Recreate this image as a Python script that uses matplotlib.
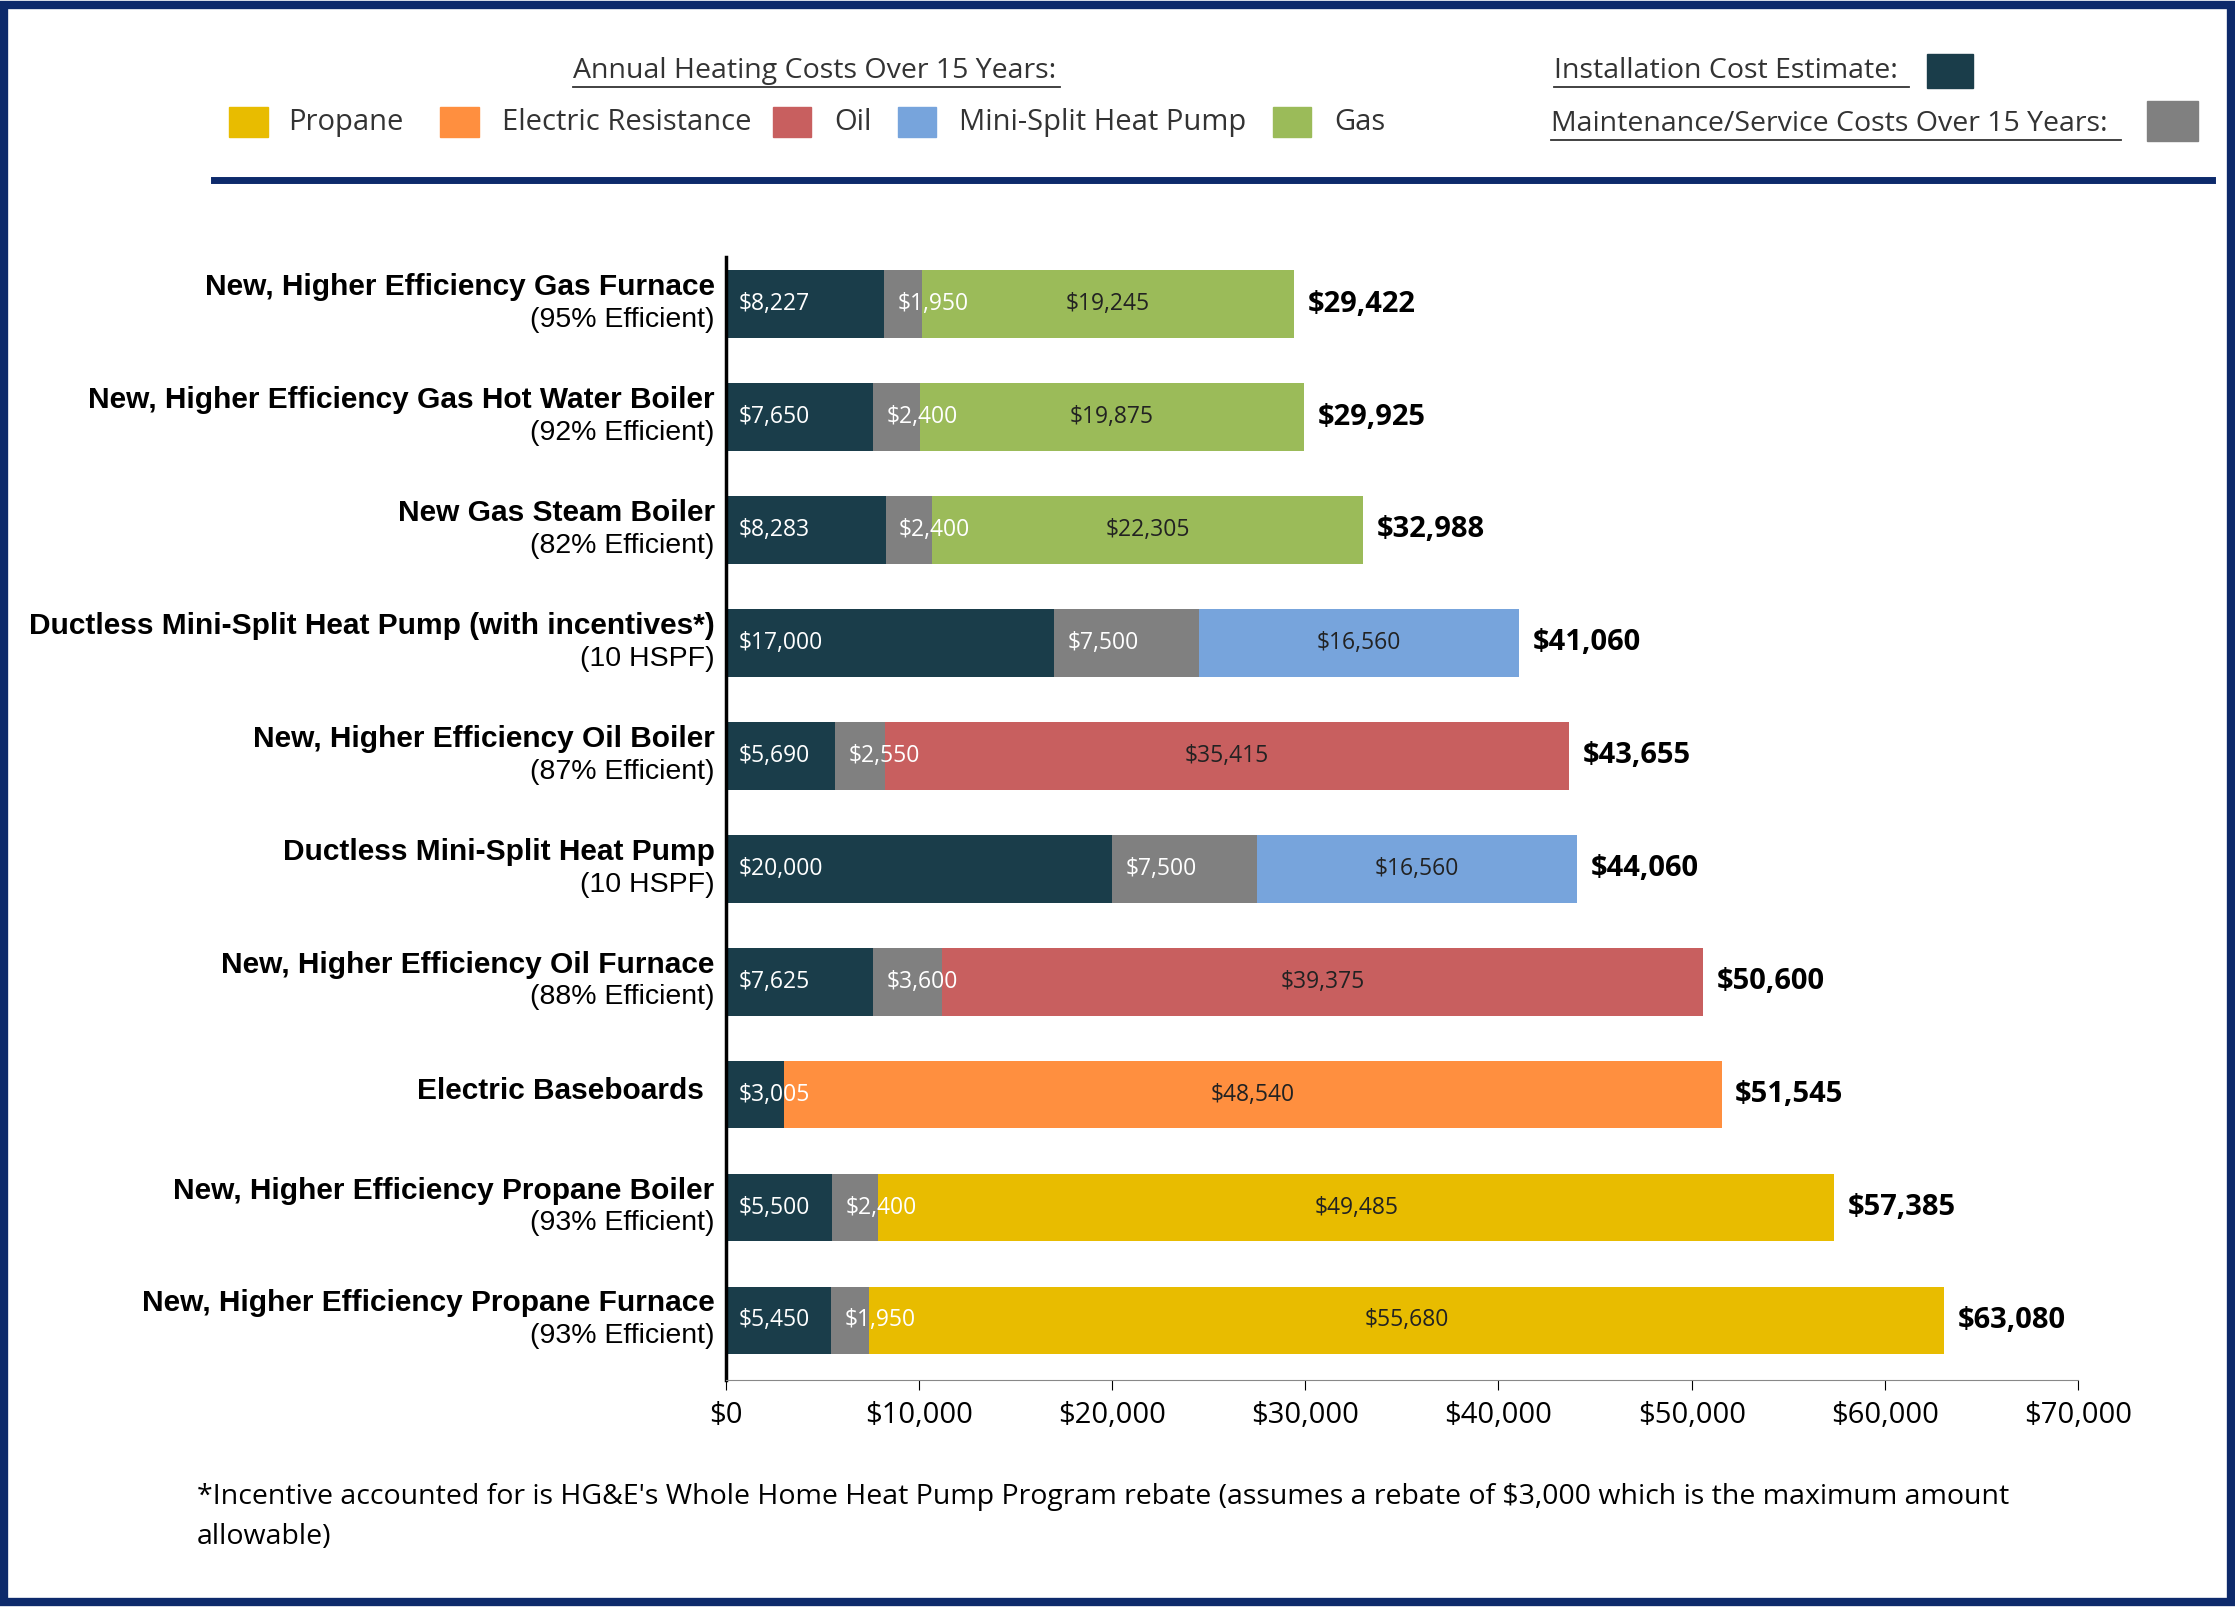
import matplotlib.pyplot as plt
from matplotlib.patches import Rectangle
from matplotlib.lines import Line2D
from matplotlib.ticker import FuncFormatter

names = ['New, Higher Efficiency Gas Furnace', 'New, Higher Efficiency Gas Hot Water Boiler',
         'New Gas Steam Boiler', 'Ductless Mini-Split Heat Pump (with incentives*)',
         'New, Higher Efficiency Oil Boiler', 'Ductless Mini-Split Heat Pump',
         'New, Higher Efficiency Oil Furnace', 'Electric Baseboards',
         'New, Higher Efficiency Propane Boiler', 'New, Higher Efficiency Propane Furnace']
subs = ['(95% Efficient)', '(92% Efficient)', '(82% Efficient)', '(10 HSPF)', '(87% Efficient)',
        '(10 HSPF)', '(88% Efficient)', '', '(93% Efficient)', '(93% Efficient)']
install = [8227, 7650, 8283, 17000, 5690, 20000, 7625, 3005, 5500, 5450]
maint = [1950, 2400, 2400, 7500, 2550, 7500, 3600, 0, 2400, 1950]
fuel = [19245, 19875, 22305, 16560, 35415, 16560, 39375, 48540, 49485, 55680]
fuel_type = ['Gas', 'Gas', 'Gas', 'Mini-Split Heat Pump', 'Oil', 'Mini-Split Heat Pump',
             'Oil', 'Electric Resistance', 'Propane', 'Propane']

colors = {'Propane': '#e8bc00', 'Electric Resistance': '#ff8f3f', 'Oil': '#c85f5f',
          'Mini-Split Heat Pump': '#77a4dc', 'Gas': '#9bbb59'}
c_inst = '#1a3d4a'
c_maint = '#808080'

W, H = 1568.0, 1127.0  # reference layout coordinates
fig = plt.figure(figsize=(22.35, 16.07), dpi=100)
ax = fig.add_axes([509 / W, 1 - 968 / H, (1458 - 509) / W, (968 - 180) / H])

fam = ['Liberation Sans', 'DejaVu Sans']
cal = ['Open Sans', 'DejaVu Sans']
y = list(range(len(names)))[::-1]
for i in range(len(names)):
    yy = y[i]
    ax.barh(yy, install[i], height=0.6, color=c_inst)
    ax.barh(yy, maint[i], left=install[i], height=0.6, color=c_maint)
    ax.barh(yy, fuel[i], left=install[i] + maint[i], height=0.6, color=colors[fuel_type[i]])
    ax.text(700, yy, '${:,}'.format(install[i]), color='white', va='center', fontsize=16.5, family=cal)
    if maint[i]:
        ax.text(install[i] + 700, yy, '${:,}'.format(maint[i]), color='white', va='center', fontsize=16.5, family=cal)
    ax.text(install[i] + maint[i] + fuel[i] / 2, yy, '${:,}'.format(fuel[i]), color='#222222',
            va='center', ha='center', fontsize=16.5, family=cal)
    tot = install[i] + maint[i] + fuel[i]
    ax.text(tot + 700, yy, '${:,}'.format(tot), va='center', fontsize=21, fontweight='bold', family=cal)
    if subs[i]:
        ax.text(-0.008, yy + 0.15, names[i], transform=ax.get_yaxis_transform(), ha='right', va='center',
                fontsize=21.5, fontweight='bold', family=fam)
        ax.text(-0.008, yy - 0.14, subs[i], transform=ax.get_yaxis_transform(), ha='right', va='center',
                fontsize=20.5, family=fam)
    else:
        ax.text(-0.016, yy + 0.03, names[i], transform=ax.get_yaxis_transform(), ha='right', va='center',
                fontsize=21.5, fontweight='bold', family=fam)

ax.set_xlim(0, 70000)
ax.set_ylim(-0.53, len(names) - 1 + 0.42)
ax.set_xticks(range(0, 70001, 10000))
ax.xaxis.set_major_formatter(FuncFormatter(lambda v, p: '${:,.0f}'.format(v)))
ax.tick_params(axis='x', labelsize=21, length=7, direction='out', pad=8)
ax.set_yticks([])
for lbl in ax.get_xticklabels():
    lbl.set_family(cal)
for s in ['top', 'right']:
    ax.spines[s].set_visible(False)
ax.spines['left'].set_linewidth(2.5)
ax.spines['bottom'].set_color('#888888')

# header legend
def fx(x):
    return x / W

def fy(yv):
    return 1 - yv / H

def utext(x, yv, s, x2):
    fig.text(fx(x), fy(yv), s, fontsize=20.5, family=cal, color='#333333', va='center')
    fig.add_artist(Line2D([fx(x), fx(x2)], [fy(yv + 11), fy(yv + 11)], color='#333333', lw=1.3))

utext(402, 50, 'Annual Heating Costs Over 15 Years:', 744)
utext(1090, 50, 'Installation Cost Estimate:', 1339)
utext(1088, 87, 'Maintenance/Service Costs Over 15 Years:', 1488)
fig.add_artist(Rectangle((fx(1352), fy(62)), 32 / W, 24 / H, color=c_inst))
fig.add_artist(Rectangle((fx(1506), fy(99)), 36 / W, 28 / H, color=c_maint))

leg = [('Propane', 161, 202), ('Electric Resistance', 309, 352), ('Oil', 542, 585),
       ('Mini-Split Heat Pump', 630, 673), ('Gas', 893, 936)]
for lab, bx, tx in leg:
    fig.add_artist(Rectangle((fx(bx), fy(96)), 27 / W, 21 / H, color=colors[lab]))
    fig.text(fx(tx), fy(86), lab, fontsize=21, family=cal, color='#333333', va='center')

fig.add_artist(Line2D([fx(150), fx(1552)], [fy(126), fy(126)], color='#0d2a6b', lw=5))

fig.text(fx(138), fy(1050), "*Incentive accounted for is HG&E's Whole Home Heat Pump Program rebate (assumes a rebate of $3,000 which is the maximum amount",
         fontsize=20.5, family=cal, va='center')
fig.text(fx(138), fy(1078), 'allowable)', fontsize=20.5, family=cal, va='center')

fig.add_artist(Rectangle((0.002, 0.003), 0.996, 0.994, fill=False, edgecolor='#0d2a6b', lw=6))

fig.savefig('out.png', dpi=100)
